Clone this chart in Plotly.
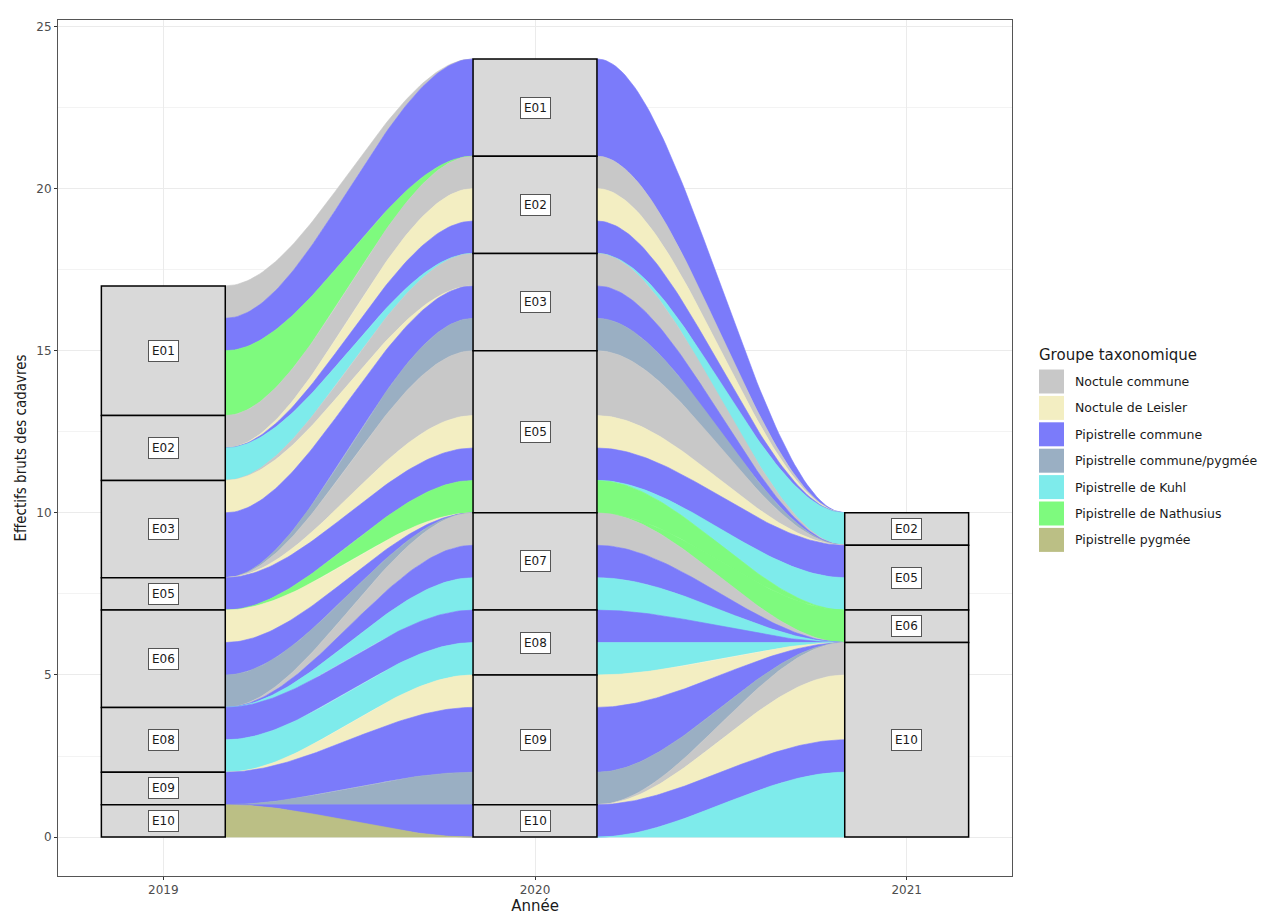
import numpy as np
import plotly.graph_objects as go

years = ["2019", "2020", "2021"]
stations = ["E01", "E02", "E03", "E05", "E06", "E07", "E08", "E09", "E10"]
taxa = ["Noctule commune", "Noctule de Leisler", "Pipistrelle commune",
        "Pipistrelle commune/pygmée", "Pipistrelle de Kuhl",
        "Pipistrelle de Nathusius", "Pipistrelle pygmée"]
taxa_colors = ["#C8C8C8", "#F3EEC2", "#7B7BFA", "#9AAFC3", "#7EEBEB", "#7EFA7E", "#BBBF85"]

st_2019 = ["E01", "E01", "E01", "E02", "E02", "E03", "E03", "E05", "E06", "E06", "E06", "E08", "E08", "E09", "E10"]
tx_2019 = ["Noctule commune", "Pipistrelle commune", "Pipistrelle de Nathusius",
           "Noctule commune", "Pipistrelle de Kuhl",
           "Noctule de Leisler", "Pipistrelle commune",
           "Pipistrelle commune",
           "Noctule de Leisler", "Pipistrelle commune", "Pipistrelle commune/pygmée",
           "Pipistrelle commune", "Pipistrelle de Kuhl",
           "Pipistrelle commune",
           "Pipistrelle pygmée"]
n_2019 = [1, 1, 2, 1, 1, 1, 2, 1, 1, 1, 1, 1, 1, 1, 1]

st_2020 = ["E01", "E02", "E02", "E02", "E03", "E03", "E03", "E05", "E05", "E05", "E05",
           "E07", "E07", "E07", "E08", "E08", "E09", "E09", "E09", "E10"]
tx_2020 = ["Pipistrelle commune",
           "Noctule commune", "Noctule de Leisler", "Pipistrelle commune",
           "Noctule commune", "Pipistrelle commune", "Pipistrelle commune/pygmée",
           "Noctule commune", "Noctule de Leisler", "Pipistrelle commune", "Pipistrelle de Nathusius",
           "Noctule commune", "Pipistrelle commune", "Pipistrelle de Kuhl",
           "Pipistrelle commune", "Pipistrelle de Kuhl",
           "Noctule de Leisler", "Pipistrelle commune", "Pipistrelle commune/pygmée",
           "Pipistrelle commune"]
n_2020 = [3, 1, 1, 1, 1, 1, 1, 2, 1, 1, 1, 1, 1, 1, 1, 1, 1, 2, 1, 1]

st_2021 = ["E02", "E05", "E05", "E06", "E10", "E10", "E10", "E10"]
tx_2021 = ["Pipistrelle de Kuhl",
           "Pipistrelle commune", "Pipistrelle de Kuhl",
           "Pipistrelle de Nathusius",
           "Noctule commune", "Noctule de Leisler", "Pipistrelle commune", "Pipistrelle de Kuhl"]
n_2021 = [1, 1, 1, 1, 1, 2, 1, 2]

year_records = [(st_2019, tx_2019, n_2019), (st_2020, tx_2020, n_2020), (st_2021, tx_2021, n_2021)]


def layout_year(st, tx, n):
    count = {(s, t): 0 for s in stations for t in taxa}
    for s, t, k in zip(st, tx, n):
        count[(s, t)] += k
    lodes, strata = {}, {}
    y = 0
    for s in reversed(stations):
        ys = y
        for t in reversed(taxa):
            k = count[(s, t)]
            lodes[(s, t)] = (y, y + k)
            y += k
        strata[s] = (ys, y)
    return lodes, strata


layouts = [layout_year(*r) for r in year_records]
W = 1 / 3.0
fig = go.Figure()

tt = np.linspace(0, 1, 80)
ss = 3 * tt ** 2 - 2 * tt ** 3
for i in range(len(years) - 1):
    lodesA, _ = layouts[i]
    lodesB, _ = layouts[i + 1]
    xa, xb = i + 1 + W / 2, i + 2 - W / 2
    xs = xa + (xb - xa) * tt
    for s in stations:
        for t, c in zip(taxa, taxa_colors):
            a0, a1 = lodesA[(s, t)]
            b0, b1 = lodesB[(s, t)]
            if a1 - a0 == 0 and b1 - b0 == 0:
                continue
            top = a1 + (b1 - a1) * ss
            bot = a0 + (b0 - a0) * ss
            fig.add_trace(go.Scatter(
                x=np.concatenate([xs, xs[::-1]]),
                y=np.concatenate([top, bot[::-1]]),
                fill="toself", fillcolor=c, mode="lines",
                line=dict(color=c, width=0.6), hoverinfo="skip", showlegend=False))

# strata boxes and labels
for i, (lodes, strata) in enumerate(layouts):
    xc = i + 1
    for s in stations:
        y0, y1 = strata[s]
        if y1 - y0 <= 0:
            continue
        fig.add_shape(type="rect", x0=xc - W / 2, x1=xc + W / 2, y0=y0, y1=y1,
                      fillcolor="#D9D9D9", line=dict(color="black", width=1.5), layer="above")
        fig.add_annotation(x=xc, y=(y0 + y1) / 2, text=s, showarrow=False,
                           font=dict(family="DejaVu Sans", size=12, color="#1A1A1A"),
                           bgcolor="white", bordercolor="#555555", borderwidth=1, borderpad=3)

# page offset (body margin) and panel geometry in page pixels
OFF = 8
L, R, T, B = 58, 1012, 20, 876
pw, ph = R - L, B - T


def px(x):
    return (x - L) / pw


def py(y):
    return (B - y) / ph


fig.add_annotation(x=px(1037), y=py(355), xref="paper", yref="paper", text="Groupe taxonomique",
                   showarrow=False, xanchor="left", yanchor="middle",
                   font=dict(family="DejaVu Sans", size=15, color="#1A1A1A"))
for k, (t, c) in enumerate(zip(taxa, taxa_colors)):
    yc = 381.5 + k * 26.4
    fig.add_shape(type="rect", xref="paper", yref="paper",
                  x0=px(1039), x1=px(1064), y0=py(yc - 12), y1=py(yc + 12),
                  fillcolor=c, line=dict(width=0))
    fig.add_annotation(x=px(1073), y=py(yc), xref="paper", yref="paper", text=t,
                       showarrow=False, xanchor="left", yanchor="middle",
                       font=dict(family="DejaVu Sans", size=12.5, color="#1A1A1A"))

fig.update_layout(
    width=1272, height=916,
    margin=dict(l=L - OFF, r=1272 - R + OFF, t=T - OFF, b=916 - B + OFF),
    plot_bgcolor="white", paper_bgcolor="white",
    showlegend=False,
    xaxis=dict(range=[1 - W / 2 - 0.1167, 3 + W / 2 + 0.1167],
               tickvals=[1, 2, 3], ticktext=years,
               showgrid=True, gridcolor="#EBEBEB", gridwidth=1, zeroline=False,
               showline=True, linecolor="#555555", linewidth=1, mirror=True,
               ticks="outside", ticklen=3, tickcolor="#333333",
               tickfont=dict(family="DejaVu Sans", size=12, color="#4D4D4D"),
               title=dict(text="Année", standoff=2,
                          font=dict(family="DejaVu Sans", size=15, color="#1A1A1A"))),
    yaxis=dict(range=[-1.2, 25.2], tickvals=[0, 5, 10, 15, 20, 25],
               showgrid=True, gridcolor="#EBEBEB", gridwidth=1, zeroline=False,
               minor=dict(tickvals=[2.5, 7.5, 12.5, 17.5, 22.5], showgrid=True,
                          gridcolor="#F3F3F3", gridwidth=0.6),
               showline=True, linecolor="#555555", linewidth=1, mirror=True,
               ticks="outside", ticklen=3, tickcolor="#333333",
               tickfont=dict(family="DejaVu Sans", size=12, color="#4D4D4D"),
               title=dict(text="Effectifs bruts des cadavres", standoff=6,
                          font=dict(family="DejaVu Sans Condensed", size=15, color="#1A1A1A"))),
)

fig.write_html("out.html")
